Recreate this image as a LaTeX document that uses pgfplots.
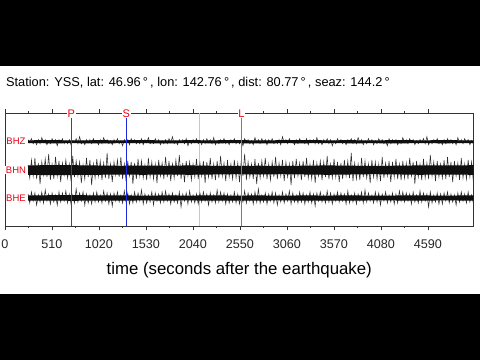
\documentclass[border=0pt]{standalone}
\usepackage{pgfplots}
\pgfplotsset{compat=1.18}
\usepackage{fontspec}
\setmainfont{Liberation Sans}
\definecolor{pred}{RGB}{235,0,20}
\definecolor{sblue}{RGB}{30,40,220}
\definecolor{lgreen}{RGB}{0,200,60}
\definecolor{trace}{RGB}{15,15,15}
\definecolor{fuzz}{RGB}{45,45,45}
\begin{document}
\begin{tikzpicture}
\fill[black] (0,0) rectangle (480pt,66pt);
\fill[black] (0,294pt) rectangle (480pt,360pt);
\begin{axis}[
  at={(5pt,134pt)}, anchor=south west,
  scale only axis, width=468.5pt, height=113pt,
  xmin=0, xmax=5085, ymin=0, ymax=113,
  xtick={0,510,1020,1530,2040,2550,3060,3570,4080,4590},
  minor x tick num=1,
  ytick=\empty,
  xtick pos=both,
  tick align=outside,
  major tick length=4pt, minor tick length=2pt,
  axis line style={black!80, line width=0.6pt},
  every tick/.style={black!80, line width=0.6pt},
  /pgf/number format/assume math mode=true,
  /pgf/number format/set thousands separator={},
  xticklabel style={font=\fontsize{12.6}{13}\selectfont, text=black!85, yshift=-6.5pt},
  clip=false,
  title={Station: YSS, lat: 46.96\,°\,, lon: 142.76\,°\,, dist: 80.77\,°\,, seaz: 144.2\,°},
  title style={at={(axis description cs:0.002,1.215)}, anchor=west, font=\fontsize{12.8}{14}\selectfont, inner sep=0pt},
  xlabel={time (seconds after the earthquake)},
  xlabel style={at={(axis description cs:0.5,-0.39)}, anchor=center, font=\fontsize{16.8}{18}\selectfont, inner sep=0pt},
]
% event line (gray)
\addplot[gray!45, line width=0.7pt] coordinates {(2105,0) (2105,113)};
% BHZ
\addplot[fuzz, line width=0.55pt] table[row sep=\\, header=false, x expr=250+\coordindex*18.66, y expr=84.3+\thisrowno{0}] {
2\\-1\\3\\-2\\1\\-3\\2\\-2\\4\\-1\\2\\-3\\1\\-2\\3\\-1\\2\\-4\\2\\-1\\
3\\-2\\1\\-2\\2\\-3\\1\\-1\\3\\-2\\5\\-2\\1\\-3\\2\\-1\\2\\-2\\3\\-1\\
1\\-3\\2\\-2\\4\\-1\\2\\-2\\1\\-3\\2\\-1\\3\\-2\\1\\-4\\2\\-1\\2\\-3\\
3\\-1\\2\\-2\\1\\-2\\3\\-3\\2\\-1\\4\\-2\\1\\-2\\3\\-1\\2\\-3\\1\\-2\\
2\\-2\\3\\-1\\5\\-2\\1\\-3\\2\\-1\\2\\-2\\3\\-4\\1\\-2\\2\\-1\\3\\-2\\
1\\-3\\2\\-2\\3\\-1\\2\\-2\\4\\-3\\1\\-2\\2\\-1\\3\\-2\\1\\-3\\2\\-1\\
3\\-2\\1\\-2\\2\\-4\\3\\-1\\2\\-2\\1\\-3\\4\\-1\\2\\-2\\3\\-1\\2\\-3\\
2\\-1\\3\\-2\\1\\-2\\2\\-3\\5\\-1\\2\\-2\\3\\-1\\1\\-3\\2\\-2\\3\\-1\\
1\\-2\\3\\-3\\2\\-1\\2\\-2\\4\\-2\\1\\-3\\2\\-1\\3\\-2\\2\\-4\\1\\-2\\
3\\-1\\2\\-2\\1\\-3\\2\\-1\\3\\-2\\2\\-2\\4\\-1\\2\\-3\\1\\-2\\3\\-1\\
2\\-3\\1\\-2\\3\\-1\\2\\-2\\1\\-4\\3\\-2\\2\\-1\\2\\-3\\1\\-2\\4\\-1\\
2\\-2\\3\\-1\\2\\-3\\1\\-2\\2\\-1\\3\\-2\\5\\-3\\1\\-2\\2\\-1\\3\\-2\\
1\\-3\\2\\-2\\3\\-1\\2\\-2\\1\\-3\\4\\-1\\2\\-2\\3\\-1\\2\\-3\\1\\-2\\
};
% BHN
\addplot[fuzz, line width=0.55pt] table[row sep=\\, header=false, x expr=250+\coordindex*18.66, y expr=56+\thisrowno{0}] {
5\\-8\\10\\-6\\12\\-9\\7\\-14\\8\\-5\\11\\-7\\16\\-10\\6\\-9\\13\\-6\\9\\-12\\
7\\-5\\10\\-8\\6\\-11\\14\\-7\\9\\-6\\8\\-13\\5\\-9\\12\\-7\\10\\-15\\6\\-8\\
11\\-6\\9\\-10\\7\\-8\\17\\-9\\6\\-12\\8\\-5\\10\\-7\\13\\-9\\6\\-11\\9\\-6\\
8\\-14\\7\\-9\\11\\-6\\9\\-8\\5\\-10\\12\\-7\\8\\-9\\6\\-13\\10\\-6\\7\\-9\\
13\\-7\\9\\-11\\6\\-8\\10\\-6\\15\\-9\\7\\-12\\9\\-6\\8\\-10\\6\\-7\\11\\-9\\
7\\-6\\9\\-13\\8\\-7\\12\\-9\\6\\-10\\9\\-8\\14\\-6\\7\\-11\\10\\-7\\6\\-9\\
10\\-8\\7\\-12\\9\\-6\\16\\-10\\8\\-7\\6\\-9\\11\\-14\\7\\-8\\9\\-6\\12\\-9\\
6\\-10\\8\\-7\\13\\-9\\7\\-6\\10\\-11\\8\\-7\\6\\-15\\9\\-8\\11\\-6\\7\\-10\\
9\\-7\\12\\-8\\6\\-9\\10\\-13\\7\\-6\\9\\-10\\8\\-7\\14\\-9\\6\\-8\\11\\-7\\
8\\-12\\7\\-9\\10\\-6\\9\\-8\\17\\-11\\7\\-9\\6\\-10\\12\\-7\\9\\-8\\6\\-13\\
10\\-7\\8\\-9\\6\\-11\\13\\-8\\7\\-6\\9\\-12\\8\\-7\\11\\-9\\6\\-10\\9\\-8\\
7\\-9\\12\\-6\\8\\-14\\9\\-7\\6\\-10\\11\\-8\\7\\-9\\15\\-6\\8\\-11\\9\\-7\\
6\\-8\\10\\-9\\13\\-7\\8\\-12\\9\\-6\\7\\-10\\12\\-8\\6\\-9\\10\\-7\\8\\-11\\
};
% BHE
\addplot[fuzz, line width=0.55pt] table[row sep=\\, header=false, x expr=250+\coordindex*18.66, y expr=28+\thisrowno{0}] {
4\\-5\\6\\-3\\5\\-7\\3\\-4\\6\\-5\\8\\-3\\4\\-6\\5\\-4\\3\\-7\\6\\-4\\
5\\-3\\7\\-5\\4\\-6\\3\\-5\\9\\-4\\5\\-3\\6\\-7\\4\\-5\\3\\-6\\5\\-4\\
6\\-4\\3\\-5\\7\\-3\\5\\-6\\4\\-8\\5\\-3\\6\\-4\\3\\-5\\7\\-4\\5\\-6\\
3\\-5\\6\\-4\\5\\-3\\8\\-6\\4\\-5\\3\\-4\\6\\-7\\5\\-3\\4\\-5\\6\\-4\\
7\\-3\\4\\-6\\5\\-4\\3\\-5\\6\\-9\\4\\-3\\5\\-6\\7\\-4\\3\\-5\\4\\-6\\
5\\-4\\6\\-3\\4\\-7\\5\\-4\\3\\-5\\8\\-4\\6\\-3\\5\\-6\\4\\-5\\3\\-4\\
6\\-5\\4\\-6\\3\\-4\\7\\-5\\5\\-3\\4\\-6\\6\\-4\\9\\-5\\3\\-4\\5\\-6\\
4\\-3\\6\\-5\\5\\-7\\3\\-4\\6\\-5\\4\\-3\\7\\-6\\5\\-4\\3\\-5\\6\\-4\\
5\\-6\\3\\-4\\6\\-5\\4\\-8\\5\\-3\\6\\-4\\3\\-5\\7\\-4\\5\\-6\\4\\-3\\
6\\-4\\5\\-3\\4\\-6\\7\\-5\\3\\-4\\5\\-6\\4\\-3\\6\\-5\\8\\-4\\5\\-3\\
3\\-5\\6\\-4\\5\\-7\\4\\-3\\6\\-5\\3\\-4\\5\\-6\\4\\-5\\7\\-3\\6\\-4\\
5\\-3\\4\\-6\\6\\-4\\3\\-5\\7\\-4\\5\\-3\\4\\-9\\6\\-5\\3\\-4\\5\\-6\\
4\\-6\\5\\-3\\6\\-5\\4\\-4\\3\\-7\\5\\-4\\6\\-3\\4\\-5\\6\\-4\\3\\-5\\
};
% cores of the traces (envelopes)
\addplot[fill=trace, draw=none] coordinates {(250,85.7)(500,85.9)(750,85.6)(1000,85.8)(1250,85.7)(1500,85.9)(1750,85.6)(2000,85.8)(2250,85.7)(2500,85.9)(2750,85.6)(3000,85.8)(3250,85.9)(3500,85.7)(3750,85.8)(4000,85.6)(4250,85.9)(4500,85.7)(4750,85.8)(5085,85.7)
(5085,82.9)(4750,82.7)(4500,82.9)(4250,82.6)(4000,82.8)(3750,82.7)(3500,83.0)(3250,82.7)(3000,82.8)(2750,82.6)(2500,82.8)(2250,82.7)(2000,82.9)(1750,82.6)(1500,82.8)(1250,82.8)(1000,82.6)(750,82.8)(500,82.7)(250,82.9)};
\addplot[fill=trace, draw=none] coordinates {(250,60.5)(500,61)(750,60.8)(1000,60.5)(1250,60.2)(1500,60.5)(1750,60.2)(2000,60.6)(2250,60.2)(2500,60)(2750,60.3)(3000,60)(3250,60.3)(3500,60.6)(3750,60.3)(4000,60)(4250,60.3)(4500,60.6)(4750,60.5)(5085,60.8)
(5085,51.2)(4750,51.5)(4500,51.2)(4250,51.6)(4000,51.8)(3750,51.5)(3500,51.2)(3250,51.5)(3000,51.8)(2750,51.5)(2500,51.8)(2250,51.5)(2000,51.2)(1750,51.5)(1500,51.2)(1250,51.5)(1000,51.2)(750,51)(500,50.8)(250,51.2)};
\addplot[fill=trace, draw=none] coordinates {(250,30.5)(500,30.8)(750,31.0)(1000,30.5)(1250,30.7)(1500,30.3)(1750,30.6)(2000,30.4)(2250,30.7)(2500,30.4)(2750,30.6)(3000,30.3)(3250,30.6)(3500,30.4)(3750,30.7)(4000,30.3)(4250,30.5)(4500,30.6)(4750,30.4)(5085,30.6)
(5085,25.4)(4750,25.6)(4500,25.3)(4250,25.5)(4000,25.6)(3750,25.3)(3500,25.5)(3250,25.4)(3000,25.6)(2750,25.4)(2500,25.5)(2250,25.3)(2000,25.6)(1750,25.4)(1500,25.6)(1250,25.3)(1000,25.5)(750,25.2)(500,25.4)(250,25.5)};
\addplot[color=pred, line width=1.3pt] coordinates {(719,0) (719,113)};
\addplot[color=sblue, line width=1.3pt] coordinates {(1316,0) (1316,113)};
\addplot[color=lgreen, line width=1.3pt] coordinates {(2565,0) (2565,113)};
\node[text=pred, fill=white, inner sep=0.6pt, font=\fontsize{11}{11}\selectfont] at (axis cs:719,112.5) {P};
\node[text=pred, fill=white, inner sep=0.6pt, font=\fontsize{11}{11}\selectfont] at (axis cs:1316,112.5) {S};
\node[text=pred, fill=white, inner sep=0.6pt, font=\fontsize{11}{11}\selectfont] at (axis cs:2565,112.5) {L};
\node[text=pred, fill=white, inner sep=0.5pt, font=\fontsize{9.5}{10}\selectfont] at (axis cs:119,84.3) {BHZ};
\node[text=pred, fill=white, inner sep=0.5pt, font=\fontsize{9.5}{10}\selectfont] at (axis cs:119,56) {BHN};
\node[text=pred, fill=white, inner sep=0.5pt, font=\fontsize{9.5}{10}\selectfont] at (axis cs:119,28) {BHE};
\end{axis}
\pgfresetboundingbox
\path[use as bounding box] (0,0) rectangle (480pt,360pt);
\end{tikzpicture}
\end{document}
